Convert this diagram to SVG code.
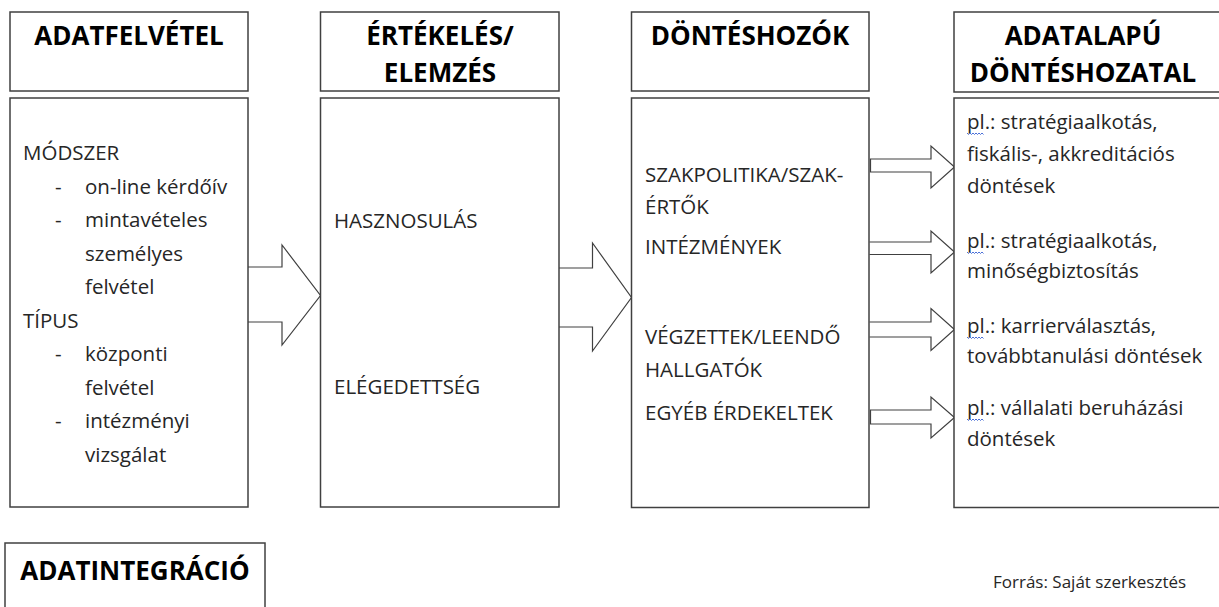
<svg xmlns="http://www.w3.org/2000/svg" width="1219" height="607" viewBox="0 0 1219 607">
<style>
.box{fill:#fff;stroke:#404040;stroke-width:1.5}
.arr{fill:#fff;stroke:#404040;stroke-width:1.2;stroke-linejoin:miter}
.h{font-family:"Open Sans","Liberation Sans",sans-serif;font-weight:bold;font-size:26px;fill:#000;text-anchor:middle}
.t{font-family:"Open Sans","Liberation Sans",sans-serif;font-size:20.5px;fill:#262626}
.src{font-family:"Open Sans","Liberation Sans",sans-serif;font-size:17px;fill:#262626}
.sq{fill:none;stroke:#4a6fd8;stroke-width:1}
</style>
<rect width="1219" height="607" fill="#fff"/>
<g id="connectors">
<path class="arr" d="M248,267 H282 V245 L320.5,295.5 L282,345 V322 H248"/>
<path class="arr" d="M559,268 H592.5 V243 L631.5,297.5 L592.5,351 V327 H559"/>
<path class="arr" d="M870.5,159 H931 V146 L954.5,167 L931,188 V172 H870.5 Z"/>
<path class="arr" d="M869.5,242 H931 V231 L954.5,252 L931,273 V254.5 H869.5"/>
<path class="arr" d="M869.5,322 H931 V308.5 L954.5,329.5 L931,350.5 V337 H869.5"/>
<path class="arr" d="M870.5,410 H931 V397 L954.5,417.5 L931,438 V424 H870.5 Z"/>
</g>
<g id="adatfelvetel">
<rect class="box" x="10" y="12" width="238" height="79"/>
<text class="h" x="129" y="45">ADATFELVÉTEL</text>
<rect class="box" x="10" y="98" width="238" height="409"/>
<text class="t" x="23" y="160">MÓDSZER</text>
<text class="t" x="55" y="193.5">-</text><text class="t" x="85" y="193.5">on-line kérdőív</text>
<text class="t" x="55" y="227">-</text><text class="t" x="85" y="227">mintavételes</text>
<text class="t" x="85" y="260.5">személyes</text>
<text class="t" x="85" y="294">felvétel</text>
<text class="t" x="23" y="327.5">TÍPUS</text>
<text class="t" x="55" y="361">-</text><text class="t" x="85" y="361">központi</text>
<text class="t" x="85" y="394.5">felvétel</text>
<text class="t" x="55" y="428">-</text><text class="t" x="85" y="428">intézményi</text>
<text class="t" x="85" y="461.5">vizsgálat</text>
</g>
<g id="ertekeles">
<rect class="box" x="320.5" y="12" width="238.5" height="79"/>
<text class="h" x="440" y="45">ÉRTÉKELÉS/</text>
<text class="h" x="440" y="81.5">ELEMZÉS</text>
<rect class="box" x="320.5" y="98" width="238.5" height="409"/>
<text class="t" x="334" y="227.5">HASZNOSULÁS</text>
<text class="t" x="334" y="394">ELÉGEDETTSÉG</text>
</g>
<g id="donteshozok">
<rect class="box" x="631.5" y="12" width="237.5" height="79"/>
<text class="h" x="750" y="45">DÖNTÉSHOZÓK</text>
<rect class="box" x="631.5" y="98" width="237.5" height="409.5"/>
<text class="t" x="645" y="181.5">SZAKPOLITIKA/SZAK-</text>
<text class="t" x="645" y="213.5">ÉRTŐK</text>
<text class="t" x="645" y="253.5">INTÉZMÉNYEK</text>
<text class="t" x="645" y="343.5">VÉGZETTEK/LEENDŐ</text>
<text class="t" x="645" y="377">HALLGATÓK</text>
<text class="t" x="645" y="420">EGYÉB ÉRDEKELTEK</text>
</g>
<g id="adatalapu">
<rect class="box" x="954" y="12" width="300" height="80"/>
<text class="h" x="1083" y="45">ADATALAPÚ</text>
<text class="h" x="1083" y="81.5">DÖNTÉSHOZATAL</text>
<rect class="box" x="954" y="98" width="300" height="409.5"/>
<text class="t" x="967" y="129">pl.: stratégiaalkotás,</text>
<text class="t" x="967" y="161">fiskális-, akkreditációs</text>
<text class="t" x="967" y="193">döntések</text>
<text class="t" x="967" y="248">pl.: stratégiaalkotás,</text>
<text class="t" x="967" y="278">minőségbiztosítás</text>
<text class="t" x="967" y="333">pl.: karrierválasztás,</text>
<text class="t" x="967" y="363">továbbtanulási döntések</text>
<text class="t" x="967" y="415">pl.: vállalati beruházási</text>
<text class="t" x="967" y="446">döntések</text>
<path class="sq" d="M967,133 l1.5,1.5 l1.5,-1.5 l1.5,1.5 l1.5,-1.5 l1.5,1.5 l1.5,-1.5 l1.5,1.5 l1.5,-1.5 l1.5,1.5 l1.5,-1.5 l1.5,1.5"/>
<path class="sq" d="M967,252 l1.5,1.5 l1.5,-1.5 l1.5,1.5 l1.5,-1.5 l1.5,1.5 l1.5,-1.5 l1.5,1.5 l1.5,-1.5 l1.5,1.5 l1.5,-1.5 l1.5,1.5"/>
<path class="sq" d="M967,337 l1.5,1.5 l1.5,-1.5 l1.5,1.5 l1.5,-1.5 l1.5,1.5 l1.5,-1.5 l1.5,1.5 l1.5,-1.5 l1.5,1.5 l1.5,-1.5 l1.5,1.5"/>
<path class="sq" d="M967,419 l1.5,1.5 l1.5,-1.5 l1.5,1.5 l1.5,-1.5 l1.5,1.5 l1.5,-1.5 l1.5,1.5 l1.5,-1.5 l1.5,1.5 l1.5,-1.5 l1.5,1.5"/>
</g>
<g id="adatintegracio">
<rect class="box" x="5" y="543" width="260" height="80"/>
<text class="h" x="135" y="580">ADATINTEGRÁCIÓ</text>
</g>
<g id="forras">
<text class="src" x="993" y="588">Forrás: Saját szerkesztés</text>
</g>
</svg>
